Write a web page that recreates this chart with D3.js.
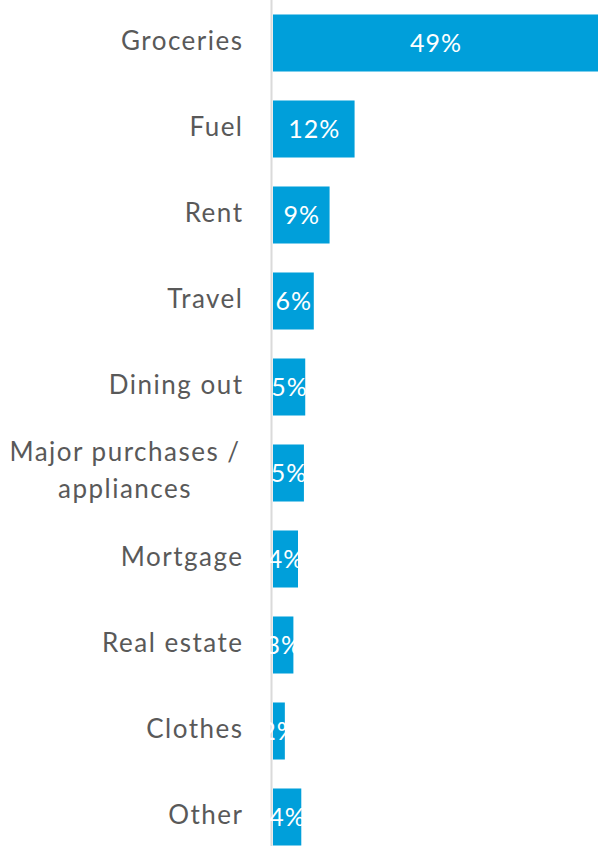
<!DOCTYPE html>
<html><head><meta charset="utf-8">
<script src="https://cdn.jsdelivr.net/npm/d3@7"></script>
<style>body{margin:0;background:#fff}svg{display:block}</style>
</head><body>
<script>
const categories = ["Groceries","Fuel","Rent","Travel","Dining out","Major purchases / appliances","Mortgage","Real estate","Clothes","Other"];
const values = [49.4, 12.4, 8.6, 6.2, 4.9, 4.7, 3.8, 3.1, 1.8, 4.3];
const labelLines = {"Major purchases / appliances": ["Major purchases /", "appliances"]};

const W = 598, H = 846;
const svg = d3.select("body").append("svg").attr("width", W).attr("height", H);
const x = d3.scaleLinear().domain([0, 49.4]).range([273, 598]);
const y = d3.scaleBand().domain(categories).range([0, 860]).paddingInner(0.337).paddingOuter(0.1685);
const fmt = d => Math.round(d) + "%";
const font = "Lato, 'Open Sans', sans-serif";

svg.selectAll("rect.bar").data(categories).join("rect").attr("class","bar")
  .attr("x", x(0)).attr("y", d => y(d)).attr("height", y.bandwidth())
  .attr("width", (d,i) => x(values[i]) - x(0)).attr("fill", "#009fda");

svg.append("line").attr("x1", 271.5).attr("x2", 271.5).attr("y1", 0).attr("y2", H)
  .attr("stroke", "#dadada").attr("stroke-width", 2);

svg.selectAll("text.val").data(categories).join("text").attr("class","val")
  .attr("x", (d,i) => (x(0) + x(values[i])) / 2 + 0.5)
  .attr("y", d => y(d) + y.bandwidth()/2).attr("dy", "0.36em")
  .attr("text-anchor", "middle").attr("fill", "#fff")
  .style("font-family", font).style("font-size", "25px")
  .style("letter-spacing", "1px")
  .text((d,i) => fmt(values[i]));

const cat = svg.append("g");
categories.forEach(c => {
  const lines = labelLines[c] || [c];
  const cy = y(c) + y.bandwidth()/2 - 2.5;
  const t = cat.append("text").attr("fill", "#595959")
    .style("font-family", font).style("font-size", "26px")
    .style("letter-spacing", "1.5px");
  if (lines.length === 1) {
    t.attr("x", 243.5).attr("y", cy).attr("dy", "0.36em").attr("text-anchor", "end").text(c);
  } else {
    t.attr("text-anchor", "middle");
    lines.forEach((l, k) => {
      t.append("tspan").attr("x", 125).attr("y", cy + (k - (lines.length-1)/2) * 37).attr("dy", "0.36em").text(l);
    });
  }
});
</script>
</body></html>
